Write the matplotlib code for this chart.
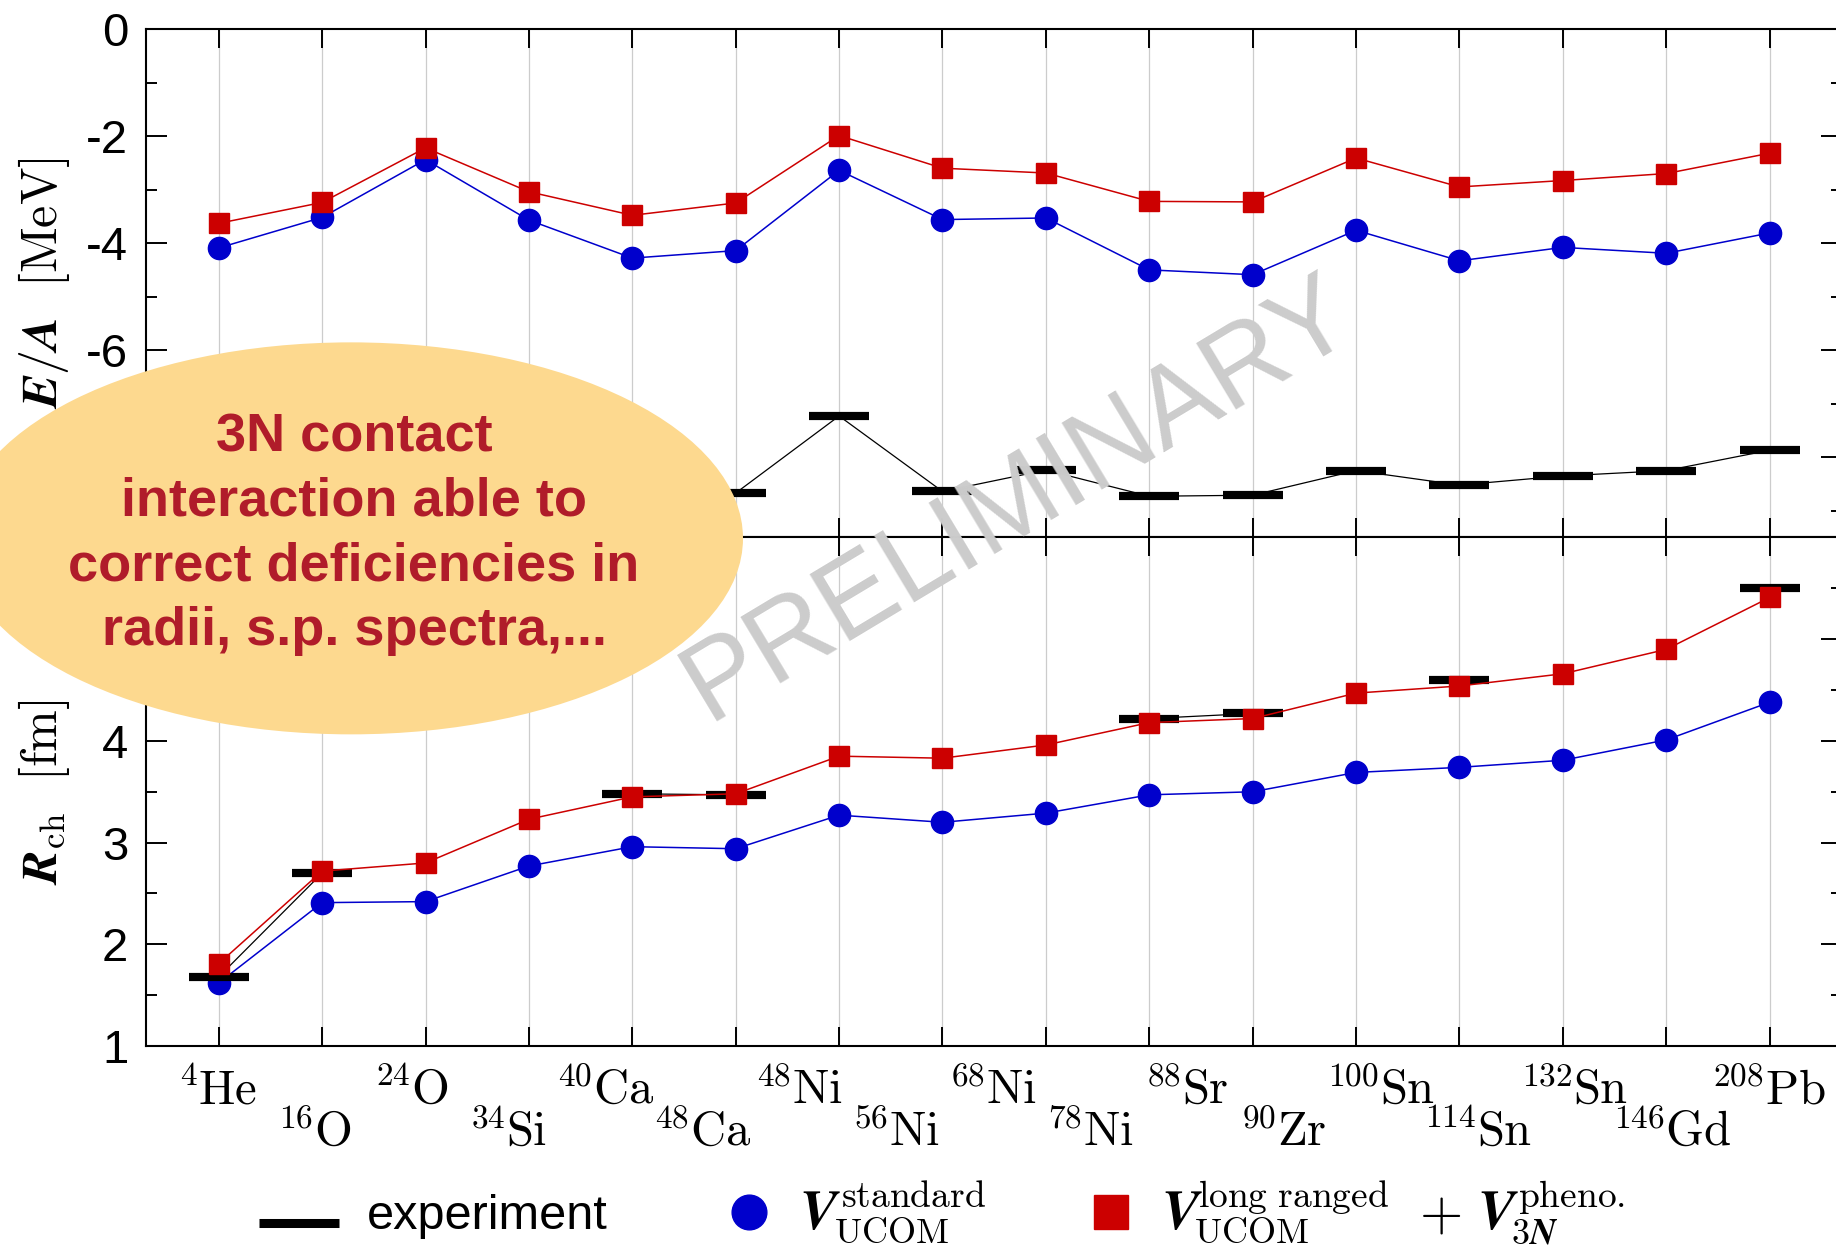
import numpy as np
import matplotlib
matplotlib.use('Agg')
import matplotlib.pyplot as plt
from matplotlib.patches import Ellipse
from matplotlib.lines import Line2D
from matplotlib.ticker import MultipleLocator
from matplotlib.transforms import blended_transform_factory, offset_copy

plt.rcParams['font.family'] = 'Liberation Sans'
plt.rcParams['mathtext.fontset'] = 'cm'

# --- Data ---
# nuclei shown on the axis (68Ni has no calculation, so 17 labels for 16 points)
mass_numbers = [4, 16, 24, 34, 40, 48, 48, 56, 68, 78, 88, 90, 100, 114, 132, 146, 208]
symbols = ['He', 'O', 'O', 'Si', 'Ca', 'Ca', 'Ni', 'Ni', 'Ni', 'Ni', 'Sr', 'Zr',
           'Sn', 'Sn', 'Sn', 'Gd', 'Pb']

# energy per nucleon [MeV]
ea_exp = [-7.07, -7.98, -7.04, -8.34, -8.55, -8.67, -7.23, -8.64, -8.24, -8.73,
          -8.71, -8.25, -8.52, -8.35, -8.25, -7.87]
ea_standard = [-4.09, -3.52, -2.44, -3.57, -4.28, -4.14, -2.64, -3.56, -3.53, -4.50,
               -4.59, -3.76, -4.33, -4.08, -4.19, -3.81]
ea_3n = [-3.63, -3.24, -2.22, -3.04, -3.48, -3.25, -1.99, -2.60, -2.69, -3.22,
         -3.23, -2.41, -2.95, -2.83, -2.70, -2.32]

# charge radii [fm]
nan = np.nan
rch_exp = [1.68, 2.70, nan, nan, 3.48, 3.47, nan, nan, nan, 4.22, 4.27, nan, 4.60,
           nan, nan, 5.50]
rch_standard = [1.62, 2.41, 2.42, 2.77, 2.96, 2.94, 3.27, 3.20, 3.29, 3.47, 3.50,
                3.69, 3.74, 3.81, 4.01, 4.38]
rch_3n = [1.81, 2.72, 2.80, 3.23, 3.45, 3.48, 3.85, 3.83, 3.96, 4.18, 4.22, 4.47,
          4.54, 4.66, 4.90, 5.41]

positions = np.arange(len(ea_exp))

BLUE = '#0000cc'
RED = '#cc0000'
W, H = 1836, 1252

fig = plt.figure(figsize=(W / 100, H / 100), dpi=100)
renderer = fig.canvas.get_renderer()
ax_e = fig.add_axes([0.0797, 0.5707, 0.9236, 0.4061])
ax_r = fig.add_axes([0.0797, 0.1645, 0.9236, 0.4062])


def style_axis(ax):
    ax.set_xlim(-0.7, 15.7)
    ax.set_xticks(positions)
    ax.tick_params(axis='x', which='major', direction='in', top=True, bottom=True,
                   length=14, width=1.4, labelbottom=False)
    ax.tick_params(axis='y', which='major', direction='in', left=True, right=True,
                   length=15, width=1.4, labelsize=34, pad=13)
    ax.tick_params(axis='y', which='minor', direction='in', left=True, right=True,
                   length=7.7, width=1.4)
    for sp in ax.spines.values():
        sp.set_linewidth(1.5)
    ax.grid(axis='x', color='#cccccc', lw=0.9)
    ax.set_axisbelow(True)


def plot_series(ax, exp, std, three_n):
    ax.plot(positions, std, color=BLUE, lw=1.1, marker='o', ms=16,
            mec=BLUE, mfc=BLUE, zorder=3)
    ax.plot(positions, exp, color='black', lw=0.9, marker='_', ms=43, mew=5.9,
            zorder=4)
    ax.plot(positions, three_n, color=RED, lw=1.1, marker='s', ms=14.5,
            mec=RED, mfc=RED, zorder=5)


# --- E/A panel ---
style_axis(ax_e)
plot_series(ax_e, ea_exp, ea_standard, ea_3n)
ax_e.set_ylim(-9.5, 0)
ax_e.yaxis.set_minor_locator(MultipleLocator(1))
ax_e.set_yticks([0, -2, -4, -6, -8])
ax_e.set_yticklabels(['0', '-2', '-4', '-6', ''])

# --- charge radius panel ---
style_axis(ax_r)
plot_series(ax_r, rch_exp, rch_standard, rch_3n)
ax_r.set_ylim(1, 6)
ax_r.yaxis.set_minor_locator(MultipleLocator(0.5))
ax_r.set_yticks([1, 2, 3, 4, 5, 6])
ax_r.set_yticklabels(['1', '2', '3', '4', '', ''])

# axis titles
fig.text(44 / W, 1 - 283 / H, r'$\mathbfit{E}/\mathbfit{A}\ \ [\mathrm{MeV}]$',
         rotation=90, ha='center', va='center', fontsize=36)
fig.text(44 / W, 1 - 792 / H, r'$\mathbfit{R}_{\mathrm{ch}}\ \ [\mathrm{fm}]$',
         rotation=90, ha='center', va='center', fontsize=36)

# nucleus labels, alternating between two rows; mass number as raised prefix
label_x = np.linspace(positions[0], positions[-1], len(symbols))
trans = blended_transform_factory(ax_r.transData, fig.transFigure)
for i, (a, s) in enumerate(zip(mass_numbers, symbols)):
    y = 1 - 1103 / H if i % 2 == 0 else 1 - 1145 / H
    sym = ax_r.text(label_x[i], y, r'$\mathrm{%s}$' % s, transform=trans,
                    ha='left', va='baseline', fontsize=35, clip_on=False)
    num = ax_r.text(label_x[i], y, r'$\mathbf{%d}$' % a, transform=trans,
                    ha='right', va='baseline', fontsize=24, clip_on=False)
    w_sym = sym.get_window_extent(renderer).width
    w_num = num.get_window_extent(renderer).width
    shift = (w_num - w_sym) / 2
    sym.set_transform(offset_copy(trans, x=shift, y=0, units='dots'))
    num.set_transform(offset_copy(trans, x=shift - 1, y=18, units='dots'))

# highlighted remark
fig.add_artist(Ellipse((351 / W, 0.570), 784 / W, 392 / H,
                       transform=fig.transFigure, facecolor='#fdd98f',
                       edgecolor='none', zorder=10))
fig.text(354 / W, 1 - 534 / H,
         '3N contact\ninteraction able to\ncorrect deficiencies in\nradii, s.p. spectra,...',
         ha='center', va='center', multialignment='center', fontsize=39,
         fontweight='bold', color='#b01c2a', linespacing=1.37, zorder=11)

# watermark
fig.text(1019 / W, 1 - 500 / H, 'PRELIMINARY', rotation=31, ha='center',
         va='center', fontsize=81, color='#cccccc', zorder=12)


def potential_label(x0, base, sup, sub, dx_sup=42, dx_sub=35):
    """Bold italic V with stacked super- and subscript, placed in pixels."""
    fig.text(x0 / W, 1 - base / H, r'$\mathbfit{V}$', fontsize=40, va='baseline')
    fig.text((x0 + dx_sup) / W, 1 - (base - 22) / H, sup, fontsize=27,
             va='baseline')
    fig.text((x0 + dx_sub) / W, 1 - (base + 14) / H, sub, fontsize=26,
             va='baseline')


# legend
LEG = 1229
fig.add_artist(Line2D([259 / W, 339 / W], [1 - (LEG - 6) / H] * 2, color='black',
                      lw=6.5, solid_capstyle='butt', transform=fig.transFigure))
fig.text(367 / W, 1 - LEG / H, 'experiment', fontsize=35, va='baseline')
fig.add_artist(Line2D([749 / W], [1 - (LEG - 17) / H], marker='o', ms=25,
                      color=BLUE, transform=fig.transFigure))
potential_label(799, LEG, r'$\mathrm{standard}$', r'$\mathrm{UCOM}$')
fig.add_artist(Line2D([1111 / W], [1 - (LEG - 17) / H], marker='s', ms=24,
                      color=RED, transform=fig.transFigure))
potential_label(1161, LEG, r'$\mathrm{long\ ranged}$', r'$\mathrm{UCOM}$',
                dx_sup=37, dx_sub=33)
fig.text(1440 / W, 1 - LEG / H, r'$+$', fontsize=40, ha='center', va='baseline')
potential_label(1477, LEG, r'$\mathrm{pheno.}$', r'$\mathbf{3}\mathbfit{N}$',
                dx_sup=41, dx_sub=34)

fig.savefig('out.png', dpi=100)
